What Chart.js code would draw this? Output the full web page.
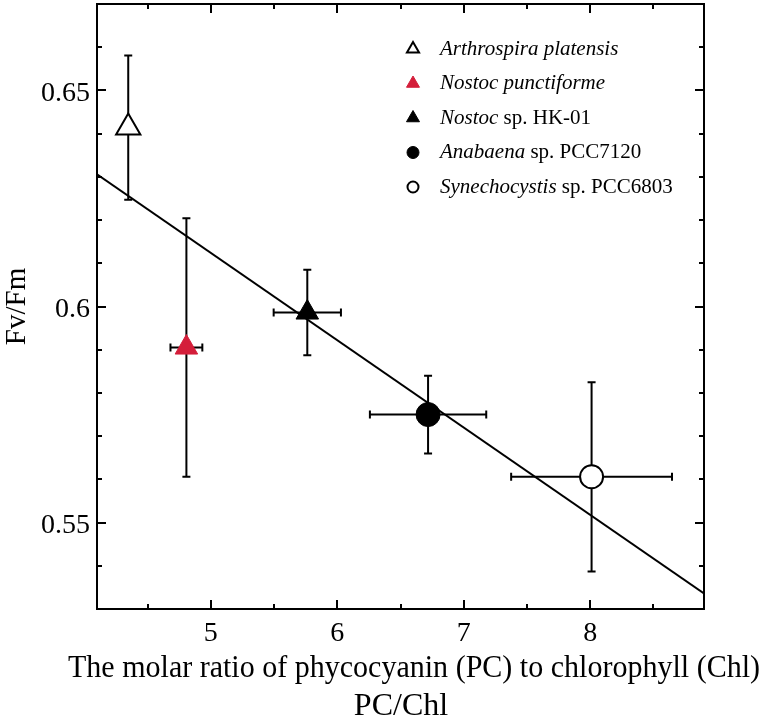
<!DOCTYPE html>
<html><head><meta charset="utf-8">
<script src="https://cdn.jsdelivr.net/npm/chart.js@4.4.1/dist/chart.umd.min.js"></script>
<style>html,body{margin:0;padding:0;background:#fff}#wrap{position:relative;width:762px;height:728px}</style>
</head><body><div id="wrap"><canvas id="c"></canvas></div>
<script>
// ---- data ----
const speciesItalic = ['Arthrospira platensis', 'Nostoc punctiforme', 'Nostoc', 'Anabaena', 'Synechocystis'];
const speciesRest = ['', '', ' sp. HK-01', ' sp. PCC7120', ' sp. PCC6803'];
const pcChl = [4.347, 4.807, 5.763, 6.718, 8.011];
const pcChlErr = [0, 0.126, 0.266, 0.46, 0.636];
const fvFm = [0.6414, 0.5905, 0.5986, 0.575, 0.5606];
const fvFmErr = [0.0167, 0.0299, 0.0099, 0.009, 0.0219];
const fitX = [4.1, 8.9];
const fitY = [0.6306, 0.5336];
const xTickLabels = [5, 6, 7, 8];
const yTickLabels = [0.55, 0.6, 0.65];
const xTitleLines = ['The molar ratio of phycocyanin (PC) to chlorophyll (Chl)', 'PC/Chl'];
const yTitle = 'Fv/Fm';

// ---- styles ----
const FONT = "'Liberation Serif', 'Times New Roman', serif";
const styles = [
  {shape: 'triangle', fill: '#ffffff', edge: '#000000', r: 14, bw: 2, lr: 7, lbw: 2},
  {shape: 'triangle', fill: '#d41e3a', edge: '#d41e3a', r: 13, bw: 1, lr: 7.5, lbw: 1},
  {shape: 'triangle', fill: '#000000', edge: '#000000', r: 13, bw: 1, lr: 7.5, lbw: 1},
  {shape: 'circle', fill: '#000000', edge: '#000000', r: 12, bw: 1, lr: 6, lbw: 1},
  {shape: 'circle', fill: '#ffffff', edge: '#000000', r: 11.5, bw: 2, lr: 5.5, lbw: 2}
];

const datasets = [{
  type: 'line', label: 'fit',
  data: fitX.map((x, i) => ({x: x, y: fitY[i]})),
  borderColor: '#000', borderWidth: 2, pointRadius: 0, fill: false, order: 10
}];
speciesItalic.forEach((name, i) => {
  const s = styles[i];
  datasets.push({
    type: 'scatter', label: name + speciesRest[i],
    data: [{x: pcChl[i], y: fvFm[i]}],
    pointStyle: s.shape, pointRadius: s.r, pointHoverRadius: s.r,
    backgroundColor: s.fill, borderColor: s.edge, borderWidth: s.bw,
    pointBorderWidth: s.bw, order: 0
  });
});

const near = (a, b) => Math.abs(a - b) < 1e-6;

const errorBars = {
  id: 'errorBars',
  afterDatasetDraw(chart, args) {
    if (args.index !== 0) return;
    const {ctx, scales: {x, y}} = chart;
    ctx.save();
    ctx.strokeStyle = '#000';
    ctx.lineWidth = 2;
    const cap = 4;
    pcChl.forEach((xv, i) => {
      const px = x.getPixelForValue(xv), py = y.getPixelForValue(fvFm[i]);
      if (fvFmErr[i] > 0) {
        const y1 = y.getPixelForValue(fvFm[i] + fvFmErr[i]);
        const y2 = y.getPixelForValue(fvFm[i] - fvFmErr[i]);
        ctx.beginPath();
        ctx.moveTo(px, y1); ctx.lineTo(px, y2);
        ctx.moveTo(px - cap, y1); ctx.lineTo(px + cap, y1);
        ctx.moveTo(px - cap, y2); ctx.lineTo(px + cap, y2);
        ctx.stroke();
      }
      if (pcChlErr[i] > 0) {
        const x1 = x.getPixelForValue(xv - pcChlErr[i]);
        const x2 = x.getPixelForValue(xv + pcChlErr[i]);
        ctx.beginPath();
        ctx.moveTo(x1, py); ctx.lineTo(x2, py);
        ctx.moveTo(x1, py - cap); ctx.lineTo(x1, py + cap);
        ctx.moveTo(x2, py - cap); ctx.lineTo(x2, py + cap);
        ctx.stroke();
      }
    });
    ctx.restore();
  }
};

const frameTicks = {
  id: 'frameTicks',
  afterDraw(chart) {
    const {ctx, chartArea: a, scales: {x, y}} = chart;
    ctx.save();
    ctx.strokeStyle = '#000';
    ctx.lineWidth = 2;
    ctx.beginPath();
    x.ticks.forEach(t => {
      const v = t.value;
      let len = 0;
      if (near(v, Math.round(v))) len = 9;
      else if (near(v * 2, Math.round(v * 2))) len = 5;
      if (!len) return;
      const p = Math.round(x.getPixelForValue(v));
      ctx.moveTo(p, a.bottom); ctx.lineTo(p, a.bottom - len);
      ctx.moveTo(p, a.top); ctx.lineTo(p, a.top + len);
    });
    y.ticks.forEach(t => {
      const v = t.value;
      if (v <= y.min + 1e-6 || v >= y.max - 1e-6) return;
      const len = near(v * 20, Math.round(v * 20)) ? 9 : 5;
      const p = Math.round(y.getPixelForValue(v));
      ctx.moveTo(a.left, p); ctx.lineTo(a.left + len, p);
      ctx.moveTo(a.right, p); ctx.lineTo(a.right - len, p);
    });
    ctx.stroke();
    ctx.strokeRect(a.left, a.top, a.right - a.left, a.bottom - a.top);
    ctx.restore();

    // x-axis title (two lines, allowed to extend past the plot frame)
    ctx.save();
    ctx.fillStyle = '#000';
    ctx.textAlign = 'center';
    ctx.textBaseline = 'middle';
    ctx.font = '32px ' + FONT;
    ctx.fillText(xTitleLines[0], 414, 669, 692);
    ctx.fillText(xTitleLines[1], 401, 707);
    ctx.restore();

    // legend
    const lx = 413, tx = 440, ly0 = 49, dy = 34.5;
    speciesItalic.forEach((name, i) => {
      const s = styles[i];
      const yy = ly0 + i * dy;
      ctx.save();
      ctx.fillStyle = s.fill; ctx.strokeStyle = s.edge; ctx.lineWidth = s.lbw;
      Chart.helpers.drawPoint(ctx, {pointStyle: s.shape, radius: s.lr, borderWidth: s.lbw, rotation: 0}, lx, yy);
      ctx.fillStyle = '#000';
      ctx.textBaseline = 'middle';
      ctx.textAlign = 'left';
      ctx.font = 'italic 21px ' + FONT;
      ctx.fillText(name, tx, yy);
      const w = ctx.measureText(name).width;
      if (speciesRest[i]) {
        ctx.font = '21px ' + FONT;
        ctx.fillText(speciesRest[i], tx + w, yy);
      }
      ctx.restore();
    });
  }
};

new Chart(document.getElementById('c'), {
  type: 'scatter',
  data: {datasets: datasets},
  options: {
    responsive: true, maintainAspectRatio: false, animation: false, devicePixelRatio: 1,
    layout: {autoPadding: false, padding: {left: 0, right: 58, top: 4, bottom: 0}},
    plugins: {legend: {display: false}, tooltip: {enabled: false}},
    scales: {
      x: {
        type: 'linear', min: 4.1, max: 8.9,
        ticks: {stepSize: 0.5, includeBounds: false, autoSkip: false, maxRotation: 0, padding: 8, color: '#000',
          font: {family: FONT, size: 28},
          callback: v => xTickLabels.some(t => near(t, v)) ? String(v) : ''},
        grid: {display: false, drawTicks: false}, border: {display: false},
        title: {display: false},
        afterFit(s) { s.height = 119; s.paddingLeft = 0; s.paddingRight = 0; }
      },
      y: {
        type: 'linear', min: 0.53, max: 0.67,
        ticks: {stepSize: 0.01, autoSkip: false, padding: 7, labelOffset: 3, color: '#000',
          font: {family: FONT, size: 28},
          callback: v => yTickLabels.some(t => near(t, v)) ? String(+v.toFixed(2)) : ''},
        grid: {display: false, drawTicks: false}, border: {display: false},
        title: {display: true, text: yTitle, color: '#000', font: {family: FONT, size: 29, lineHeight: 1.2}, padding: {top: 0, bottom: 0}},
        afterFit(s) { s.width = 97; s.paddingTop = 0; s.paddingBottom = 0; }
      }
    }
  },
  plugins: [errorBars, frameTicks]
});
</script>
</body></html>
